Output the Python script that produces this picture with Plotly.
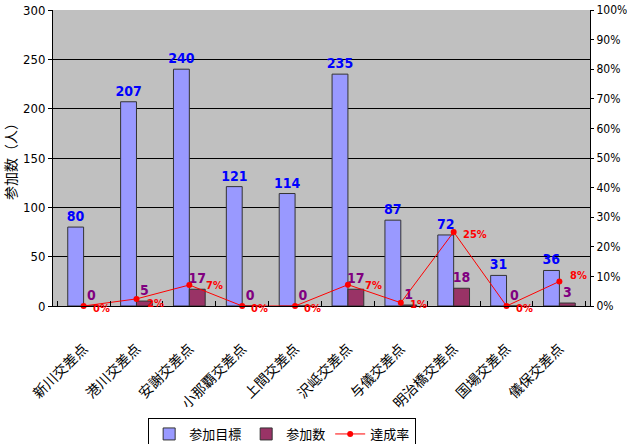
import plotly.graph_objects as go

categories = ["新川交差点", "港川交差点", "安謝交差点", "小那覇交差点", "上間交差点",
              "沢岻交差点", "与儀交差点", "明治橋交差点", "国場交差点", "儀保交差点"]
target = [80, 207, 240, 121, 114, 235, 87, 72, 31, 36]
actual = [0, 5, 17, 0, 0, 17, 1, 18, 0, 3]
rate = [0.0, 2.4, 7.1, 0.0, 0.0, 7.2, 1.1, 25.0, 0.0, 8.3]
rate_labels = ["0%", "2%", "7%", "0%", "0%", "7%", "1%", "25%", "0%", "8%"]
left_ticks = [0, 50, 100, 150, 200, 250, 300]
right_ticks = [0, 10, 20, 30, 40, 50, 60, 70, 80, 90, 100]

# label placement style (pixel nudges for individual rate labels, as in the reference)
LABEL_NUDGE = {1: (9, -5), 2: (15, -1), 5: (15, -1), 9: (9, 6)}
DEFAULT_NUDGE = (7, -2)

NUM_FONT = "DejaVu Sans Condensed, Liberation Sans Narrow, Roboto, sans-serif"
CJK_FONT = "Noto Sans CJK JP, sans-serif"

fig = go.Figure()
fig.add_trace(go.Bar(
    x=categories, y=target, name="参加目標",
    marker=dict(color="#9999FF", line=dict(color="#333333", width=1)),
    text=[str(v) for v in target], textposition="outside", constraintext="none",
    textfont=dict(color="#0000FF", family=NUM_FONT, size=14, weight="bold"),
    cliponaxis=False,
))
fig.add_trace(go.Bar(
    x=categories, y=actual, name="参加数",
    marker=dict(color="#993366", line=dict(color="#333333", width=1)),
    text=[str(v) for v in actual], textposition="outside", constraintext="none",
    textfont=dict(color="#800080", family=NUM_FONT, size=14, weight="bold"),
    cliponaxis=False,
))
fig.add_trace(go.Scatter(
    x=categories, y=rate, name="達成率", yaxis="y2",
    mode="lines+markers",
    line=dict(color="#FF0000", width=1),
    marker=dict(color="#FF0000", size=6),
    cliponaxis=False,
))

for i, (c, r, lab) in enumerate(zip(categories, rate, rate_labels)):
    dx, dy = LABEL_NUDGE.get(i, DEFAULT_NUDGE)
    fig.add_annotation(
        x=c, y=r, xref="x", yref="y2", text=lab, showarrow=False,
        xanchor="left", yanchor="middle", xshift=dx, yshift=dy,
        font=dict(color="#FF0000", family=NUM_FONT, size=11, weight="bold"),
    )

fig.update_layout(
    width=627, height=444,
    margin=dict(l=53, r=37, t=10, b=138),
    paper_bgcolor="white", plot_bgcolor="#C0C0C0",
    barmode="group", bargap=0.4, bargroupgap=0,
    showlegend=True,
    legend=dict(orientation="h", xref="container", yref="container",
                x=0.45, xanchor="center", y=1 - 418 / 444, yanchor="top",
                bordercolor="black", borderwidth=1, bgcolor="white",
                font=dict(family=CJK_FONT, size=13, color="black"),
                traceorder="normal"),
    xaxis=dict(
        type="category", showline=True, linecolor="black", linewidth=1,
        ticks="inside", ticklen=5, tickcolor="black", tickson="boundaries",
        tickangle=-45, ticklabelstandoff=28,
        tickfont=dict(family=CJK_FONT, size=14, color="black"),
        showgrid=False, automargin=False,
    ),
    yaxis=dict(
        range=[0, 300], tickmode="array", tickvals=left_ticks,
        showline=True, linecolor="black", linewidth=1,
        ticks="outside", ticklen=4, tickcolor="black",
        showgrid=True, gridcolor="black", gridwidth=1,
        tickfont=dict(family=NUM_FONT, size=13, color="black"),
        ticklabeloverflow="allow", automargin=False,
        title=dict(text="参加数（人）", font=dict(family=CJK_FONT, size=14, color="black"), standoff=6),
        zeroline=False,
    ),
    yaxis2=dict(
        range=[0, 100], tickmode="array", tickvals=right_ticks,
        ticktext=[f"{v}%" for v in right_ticks],
        overlaying="y", side="right",
        showline=True, linecolor="black", linewidth=1,
        ticks="outside", ticklen=3, tickcolor="black",
        showgrid=False, zeroline=False, automargin=False,
        ticklabeloverflow="allow",
        tickfont=dict(family=NUM_FONT, size=12, color="black"),
    ),
)

fig.write_html("out.html", config={"displayModeBar": False},
               post_script="document.body.style.margin='0';document.body.style.overflow='hidden';")
